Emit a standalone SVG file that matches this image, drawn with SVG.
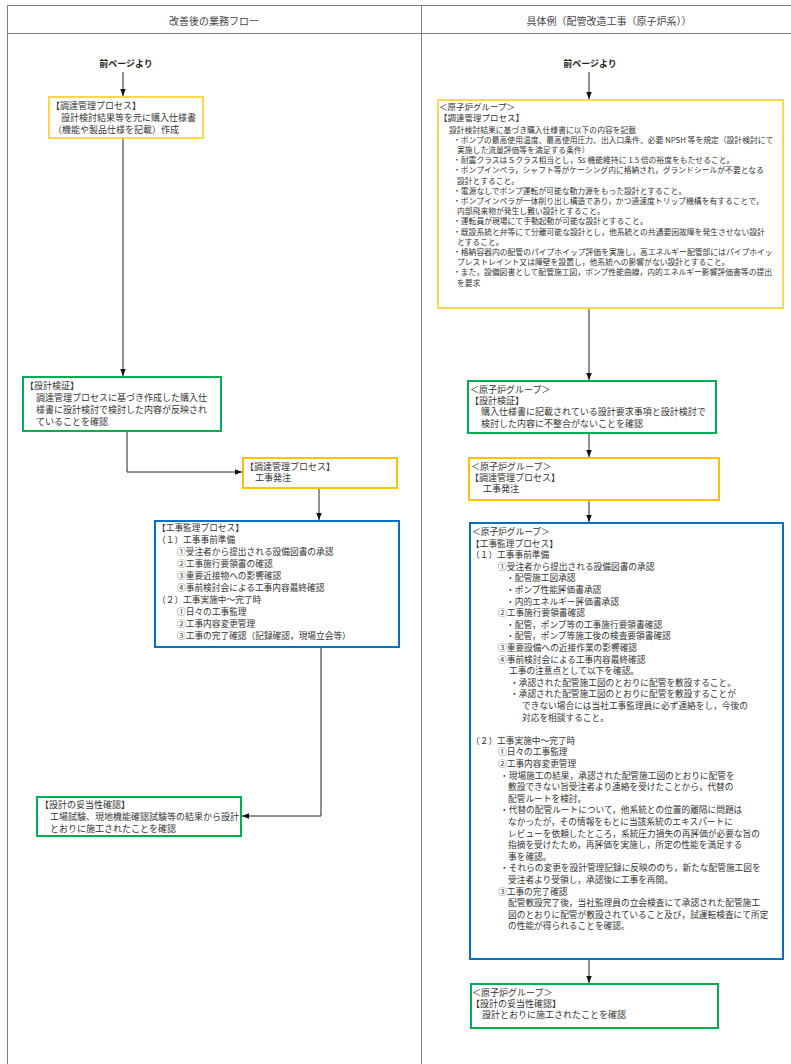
<svg xmlns="http://www.w3.org/2000/svg" width="791" height="1064" viewBox="0 0 791 1064">
<style>
text{font-family:"Noto Sans CJK JP","Noto Sans",sans-serif;fill:#333;dominant-baseline:central}
.h{font-size:10px;fill:#444;text-anchor:middle}
.b{font-size:9px;font-weight:bold;text-anchor:middle;fill:#222}
.f9{font-size:9px}
.f87{font-size:8.7px}
.f85{font-size:8.5px}
.f78{font-size:7.8px}
.frame{stroke:#808080;stroke-width:1;fill:none}
.y1{fill:#fff;stroke:#FFD54F;stroke-width:2}
.y2{fill:#fff;stroke:#FFC000;stroke-width:2}
.g{fill:#fff;stroke:#00B050;stroke-width:2}
.bl{fill:#fff;stroke:#0070C0;stroke-width:2}
.c{fill:none;stroke:#222;stroke-width:1}
</style>
<defs>
<marker id="ah" markerUnits="userSpaceOnUse" markerWidth="8" markerHeight="6" refX="7" refY="2.75" orient="auto">
<path d="M0,0 L7,2.75 L0,5.5 z" fill="#111"/>
</marker>
</defs>
<rect width="791" height="1064" fill="#fff"/>
<g id="frame">
<path class="frame" d="M7,5.5 H791 M7,33.5 H791 M7.5,5 V1064 M421.5,5 V1064"/>
<text class="h" x="214" y="20">改善後の業務フロー</text>
<text class="h" x="609" y="20">具体例（配管改造工事（原子炉系））</text>
</g>
<g id="connectors">
<path class="c" d="M123,72 V96" marker-end="url(#ah)"/>
<path class="c" d="M123,138 V376" marker-end="url(#ah)"/>
<path class="c" d="M127,431 V472 H242" marker-end="url(#ah)"/>
<path class="c" d="M319,488 V520" marker-end="url(#ah)"/>
<path class="c" d="M321,647 V816 H242" marker-end="url(#ah)"/>
<path class="c" d="M589,72 V99" marker-end="url(#ah)"/>
<path class="c" d="M589,308 V380" marker-end="url(#ah)"/>
<path class="c" d="M589,433 V457" marker-end="url(#ah)"/>
<path class="c" d="M589,500 V522" marker-end="url(#ah)"/>
<path class="c" d="M589,959 V983" marker-end="url(#ah)"/>
</g>
<g id="start-left"><text class="b" x="126" y="63">前ページより</text></g>
<g id="start-right"><text class="b" x="590" y="63">前ページより</text></g>
<g id="L1">
<rect class="y1" x="49" y="97" width="154" height="41"/>
<text class="f9" x="51" y="105">【調達管理プロセス】</text>
<text class="f9" x="61" y="117">設計検討結果等を元に購入仕様書</text>
<text class="f9" x="53" y="129">（機能や製品仕様を記載）作成</text>
</g>
<g id="L2">
<rect class="g" x="23" y="377" width="198" height="54"/>
<text class="f9" x="25" y="385">【設計検証】</text>
<text class="f9" x="36" y="397">調達管理プロセスに基づき作成した購入仕</text>
<text class="f9" x="36" y="409">様書に設計検討で検討した内容が反映され</text>
<text class="f9" x="36" y="421">ていることを確認</text>
</g>
<g id="L3">
<rect class="y2" x="243" y="458" width="154" height="30"/>
<text class="f9" x="245" y="466">【調達管理プロセス】</text>
<text class="f9" x="255" y="477">工事発注</text>
</g>
<g id="L4">
<rect class="bl" x="155" y="521" width="244" height="126"/>
<text class="f87" x="157" y="527">【工事監理プロセス】</text>
<text class="f87" x="157" y="539">（１）工事事前準備</text>
<text class="f87" x="177" y="551">①受注者から提出される設備図書の承認</text>
<text class="f87" x="177" y="563">②工事施行要領書の確認</text>
<text class="f87" x="177" y="575">③重要近接物への影響確認</text>
<text class="f87" x="177" y="587">④事前検討会による工事内容最終確認</text>
<text class="f87" x="157" y="599">（２）工事実施中～完了時</text>
<text class="f87" x="177" y="611">①日々の工事監理</text>
<text class="f87" x="177" y="623">②工事内容変更管理</text>
<text class="f87" x="177" y="635">③工事の完了確認（記録確認，現場立会等）</text>
</g>
<g id="L5">
<rect class="g" x="37" y="797" width="204" height="39"/>
<text class="f9" x="40" y="804">【設計の妥当性確認】</text>
<text class="f9" x="50" y="816">工場試験、現地機能確認試験等の結果から設計</text>
<text class="f9" x="50" y="828">とおりに施工されたことを確認</text>
</g>
<g id="R1">
<rect class="y1" x="438" y="100" width="345" height="208"/>
<text class="f85" x="439" y="106">＜原子炉グループ＞</text>
<text class="f85" x="439" y="117">【調達管理プロセス】</text>
<text class="f78" x="449" y="129">設計検討結果に基づき購入仕様書に以下の内容を記載</text>
<text class="f78" x="453" y="139.2">・ポンプの最高使用温度、最高使用圧力、出入口条件、必要 NPSH 等を規定（設計検討にて</text>
<text class="f78" x="457" y="149.4">実施した流量評価等を満足する条件）</text>
<text class="f78" x="453" y="159.6">・耐震クラスはＳクラス相当とし，Ss 機能維持に 1.5 倍の裕度をもたせること。</text>
<text class="f78" x="453" y="169.8">・ポンプインペラ，シャフト等がケーシング内に格納され，グランドシールが不要となる</text>
<text class="f78" x="457" y="180">設計とすること。</text>
<text class="f78" x="453" y="190.2">・電源なしでポンプ運転が可能な動力源をもった設計とすること。</text>
<text class="f78" x="453" y="200.4">・ポンプインペラが一体削り出し構造であり，かつ過速度トリップ機構を有することで，</text>
<text class="f78" x="457" y="210.6">内部飛来物が発生し難い設計とすること。</text>
<text class="f78" x="453" y="220.8">・運転員が現場にて手動起動が可能な設計とすること。</text>
<text class="f78" x="453" y="231">・既設系統と弁等にて分離可能な設計とし，他系統との共通要因故障を発生させない設計</text>
<text class="f78" x="457" y="241.2">とすること。</text>
<text class="f78" x="453" y="251.4">・格納容器内の配管のパイプホイップ評価を実施し，高エネルギー配管部にはパイプホイッ</text>
<text class="f78" x="457" y="261.6">プレストレイント又は障壁を設置し，他系統への影響がない設計とすること。</text>
<text class="f78" x="453" y="271.8">・また，設備図書として配管施工図，ポンプ性能曲線，内的エネルギー影響評価書等の提出</text>
<text class="f78" x="457" y="282">を要求</text>
</g>
<g id="R2">
<rect class="g" x="468" y="381" width="248" height="52"/>
<text class="f9" x="470" y="389">＜原子炉グループ＞</text>
<text class="f9" x="470" y="400">【設計検証】</text>
<text class="f9" x="481" y="411">購入仕様書に記載されている設計要求事項と設計検討で</text>
<text class="f9" x="481" y="423">検討した内容に不整合がないことを確認</text>
</g>
<g id="R3">
<rect class="y2" x="469" y="458" width="250" height="42"/>
<text class="f9" x="471" y="466">＜原子炉グループ＞</text>
<text class="f9" x="470" y="477">【調達管理プロセス】</text>
<text class="f9" x="483" y="488">工事発注</text>
</g>
<g id="R4">
<rect class="bl" x="470" y="523" width="313" height="436"/>
<text class="f87" x="472" y="531.5">＜原子炉グループ＞</text>
<text class="f87" x="471" y="543.1">【工事監理プロセス】</text>
<text class="f87" x="471" y="554.7">（１）工事事前準備</text>
<text class="f87" x="498" y="566.3">①受注者から提出される設備図書の承認</text>
<text class="f87" x="506" y="577.9">・配管施工図承認</text>
<text class="f87" x="506" y="589.5">・ポンプ性能評価書承認</text>
<text class="f87" x="506" y="601.1">・内的エネルギー評価書承認</text>
<text class="f87" x="498" y="612.7">②工事施行要領書確認</text>
<text class="f87" x="506" y="624.3">・配管，ポンプ等の工事施行要領書確認</text>
<text class="f87" x="506" y="635.9">・配管，ポンプ等施工後の検査要領書確認</text>
<text class="f87" x="498" y="647.5">③重要設備への近接作業の影響確認</text>
<text class="f87" x="498" y="659.1">④事前検討会による工事内容最終確認</text>
<text class="f87" x="509" y="670.7">工事の注意点として以下を確認。</text>
<text class="f87" x="510" y="682.3">・承認された配管施工図のとおりに配管を敷設すること。</text>
<text class="f87" x="510" y="693.9">・承認された配管施工図のとおりに配管を敷設することが</text>
<text class="f87" x="522" y="705.5">できない場合には当社工事監理員に必ず連絡をし，今後の</text>
<text class="f87" x="522" y="717.1">対応を相談すること。</text>
<text class="f87" x="471" y="740.3">（２）工事実施中～完了時</text>
<text class="f87" x="498" y="751.9">①日々の工事監理</text>
<text class="f87" x="498" y="763.5">②工事内容変更管理</text>
<text class="f87" x="500" y="775.1">・現場施工の結果，承認された配管施工図のとおりに配管を</text>
<text class="f87" x="508" y="786.7">敷設できない旨受注者より連絡を受けたことから，代替の</text>
<text class="f87" x="508" y="798.3">配管ルートを検討。</text>
<text class="f87" x="500" y="809.9">・代替の配管ルートについて，他系統との位置的離隔に問題は</text>
<text class="f87" x="508" y="821.5">なかったが，その情報をもとに当該系統のエキスパートに</text>
<text class="f87" x="508" y="833.1">レビューを依頼したところ，系統圧力損失の再評価が必要な旨の</text>
<text class="f87" x="508" y="844.7">指摘を受けたため，再評価を実施し，所定の性能を満足する</text>
<text class="f87" x="508" y="856.3">事を確認。</text>
<text class="f87" x="500" y="867.9">・それらの変更を設計管理記録に反映ののち，新たな配管施工図を</text>
<text class="f87" x="508" y="879.5">受注者より受領し，承認後に工事を再開。</text>
<text class="f87" x="498" y="891.1">③工事の完了確認</text>
<text class="f87" x="508" y="902.7">配管敷設完了後，当社監理員の立会検査にて承認された配管施工</text>
<text class="f87" x="508" y="914.3">図のとおりに配管が敷設されていること及び，試運転検査にて所定</text>
<text class="f87" x="508" y="925.9">の性能が得られることを確認。</text>
</g>
<g id="R5">
<rect class="g" x="471" y="984" width="247" height="44"/>
<text class="f9" x="472" y="992">＜原子炉グループ＞</text>
<text class="f9" x="471" y="1003">【設計の妥当性確認】</text>
<text class="f9" x="482" y="1014">設計とおりに施工されたことを確認</text>
</g>
</svg>
